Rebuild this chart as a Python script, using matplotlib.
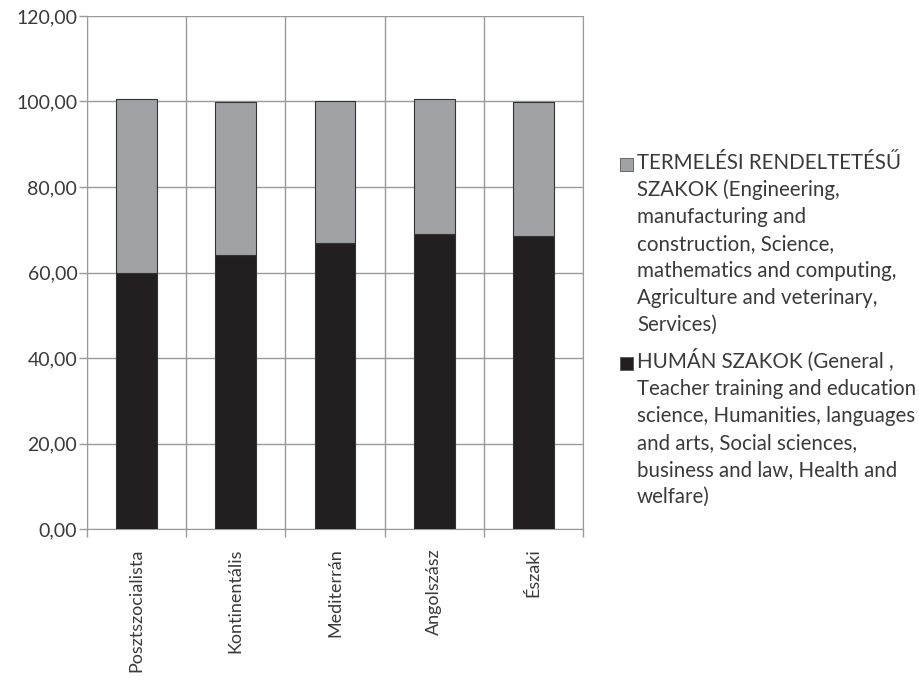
"""Stacked share of study fields by welfare-regime group."""

import matplotlib.pyplot as plt
import numpy as np
from matplotlib.patches import Rectangle
from matplotlib.ticker import FuncFormatter, FixedLocator

plt.rcParams["font.family"] = ["Lato", "DejaVu Sans"]

GRID = "#9a9a9a"
TEXT = "#3a3a3a"
HUMAN_COLOR = "#231f20"
TERMEL_COLOR = "#a1a2a5"

W, H = 919, 681

categories = ["Posztszocialista", "Kontinentális", "Mediterrán", "Angolszász", "Északi"]
human = [59.8, 64.1, 66.9, 69.0, 68.5]
termelesi = [40.8, 35.9, 33.1, 31.6, 31.5]

termel_label = [
    "TERMELÉSI RENDELTETÉSŰ", "SZAKOK (Engineering,", "manufacturing and",
    "construction, Science,", "mathematics and computing,",
    "Agriculture and veterinary,", "Services)",
]
human_label = [
    "HUMÁN SZAKOK (General ,", "Teacher training and education",
    "science, Humanities, languages", "and arts, Social sciences,",
    "business and law, Health and", "welfare)",
]

fig = plt.figure(figsize=(W / 100, H / 100), dpi=100)
ax = fig.add_axes([87 / W, 1 - 529 / H, 496 / W, 513 / H])

x = np.arange(len(categories))
ax.bar(x, human, width=0.41, color=HUMAN_COLOR, edgecolor="#333333", lw=0.8, zorder=3)
ax.bar(x, termelesi, bottom=human, width=0.41, color=TERMEL_COLOR,
       edgecolor="#333333", lw=0.8, zorder=3)

ax.set_xlim(-0.5, len(categories) - 0.5)
ax.set_ylim(0, 120)
ax.set_yticks(np.arange(0, 121, 20))
ax.yaxis.set_major_formatter(FuncFormatter(lambda v, _: f"{v:.2f}".replace(".", ",")))

ax.set_xticks(x)
ax.set_xticklabels(categories, rotation=90)
ax.xaxis.set_minor_locator(FixedLocator(np.arange(-0.5, len(categories), 1.0)))

ax.tick_params(axis="x", which="major", length=0, pad=14, labelsize=13, labelcolor=TEXT)
ax.tick_params(axis="x", which="minor", length=6, color=GRID, width=1)
ax.tick_params(axis="y", length=6, color=GRID, width=1, labelsize=14, labelcolor=TEXT, pad=1)

ax.grid(axis="y", which="major", color=GRID, lw=1, zorder=0)
ax.grid(axis="x", which="minor", color=GRID, lw=1, zorder=0)
ax.set_axisbelow(True)
for side in ("left", "bottom", "right"):
    ax.spines[side].set_color(GRID)
ax.spines["top"].set_visible(False)

# legend drawn by hand: square key + one text line per row (pixel layout)
LINE_STEP = 26.9
for lines, color, base in ((termel_label, TERMEL_COLOR, 169), (human_label, HUMAN_COLOR, 368)):
    fig.patches.append(Rectangle((620 / W, 1 - (base + 2) / H), 13 / W, 13 / H,
                                 transform=fig.transFigure, facecolor=color,
                                 edgecolor="#555555", lw=0.6))
    for i, line in enumerate(lines):
        fig.text(637 / W, 1 - (base + i * LINE_STEP) / H, line, ha="left",
                 va="baseline", fontsize=14.8, color=TEXT)

fig.savefig("out.png", dpi=100)
